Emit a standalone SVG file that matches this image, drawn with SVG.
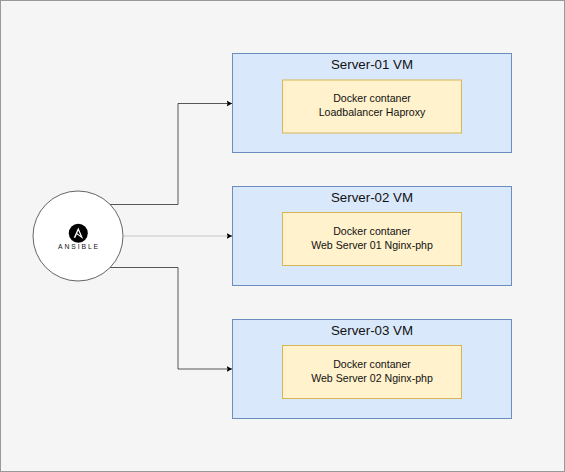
<svg xmlns="http://www.w3.org/2000/svg" width="565" height="472" viewBox="0 0 565 472">
<style>
.vm{fill:#dae8fc;stroke:#6c8ebf;stroke-width:1}
.dc{fill:#fff2cc;stroke:#d6b656;stroke-width:1}
text{font-family:"Liberation Sans",Arial,sans-serif;text-anchor:middle;fill:#111}
.t{font-size:13.300px}
.s{font-size:10.600px}
.c{fill:none;stroke:#000;stroke-width:.65}
.g{fill:none;stroke:#ddd;stroke-width:2}
</style>
<defs>
<marker id="a" markerUnits="userSpaceOnUse" markerWidth="7" markerHeight="7" refX="5.500" refY="3.500" orient="auto"><path d="M0 .6L5.500 3.500L0 6.400L1.200 3.500Z" fill="#000"/></marker>
</defs>
<rect x=".5" y=".5" width="564" height="471" fill="#f5f5f5" stroke="#999"/>
<g id="connectors">
<path class="c" d="M110 204.500H178V103.500H232" marker-end="url(#a)"/>
<path class="g" d="M124 236H229"/>
<path class="c" d="M228 236H232" marker-end="url(#a)"/>
<path class="c" d="M110 267.500H178V369H232" marker-end="url(#a)"/>
</g>
<g id="ansible">
<circle cx="78" cy="236" r="45" fill="#fff" stroke="#333" stroke-width=".75"/>
<circle cx="78.300" cy="233.300" r="9.500" fill="#000"/>
<path d="M78.300 227.500L83.200 239L76.800 234.300L75.400 237.800H73.700L78.300 227.500ZM78.300 230.800L77.200 233.300L80.500 235.700Z" fill="#fff" fill-rule="evenodd"/>
<text x="79" y="249" style="font-size:6.800px;letter-spacing:1.900px">ANSIBLE</text>
</g>
<g id="server-01">
<rect class="vm" x="232.500" y="53.500" width="279" height="99"/>
<text class="t" x="372" y="69">Server-01 VM</text>
<rect class="dc" x="282.500" y="80" width="179" height="53"/>
<text class="s" x="372" y="102">Docker contaner</text>
<text class="s" x="372" y="116">Loadbalancer Haproxy</text>
</g>
<g id="server-02">
<rect class="vm" x="232.500" y="186.500" width="279" height="99"/>
<text class="t" x="372" y="202">Server-02 VM</text>
<rect class="dc" x="282.500" y="212.500" width="179" height="53"/>
<text class="s" x="372" y="235">Docker contaner</text>
<text class="s" x="372" y="249">Web Server 01 Nginx-php</text>
</g>
<g id="server-03">
<rect class="vm" x="232.500" y="319.500" width="279" height="99"/>
<text class="t" x="372" y="335">Server-03 VM</text>
<rect class="dc" x="282.500" y="345.500" width="179" height="53"/>
<text class="s" x="372" y="368">Docker contaner</text>
<text class="s" x="372" y="382">Web Server 02 Nginx-php</text>
</g>
</svg>
